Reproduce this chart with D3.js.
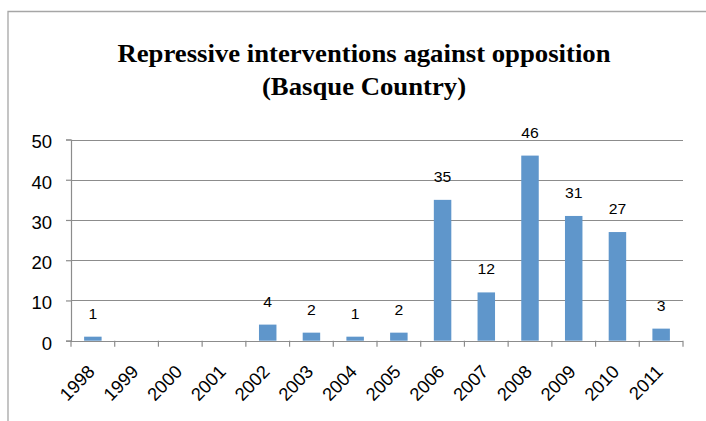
<!DOCTYPE html>
<html><head><meta charset="utf-8">
<script src="https://cdn.jsdelivr.net/npm/d3@7"></script>
<style>body{margin:0;background:#fff;}svg{display:block;}</style>
</head><body>
<script>
const years = ["1998","1999","2000","2001","2002","2003","2004","2005","2006","2007","2008","2009","2010","2011"];
const values = [1,0,0,0,4,2,1,2,35,12,46,31,27,3];
const yTicks = [0,10,20,30,40,50];
const titleLines = ["Repressive interventions against opposition","(Basque Country)"];

const W = 706, H = 421;
const SANS = "'Liberation Sans',Arial,sans-serif";
const svg = d3.select("body").append("svg").attr("width", W).attr("height", H);

// frame (cropped: only left & top visible)
svg.append("path").attr("d", `M8,${H} L8,11.5 L${W},11.5`).attr("fill","none").attr("stroke","#a6a6a6").attr("stroke-width",1.3);

const x0 = 71, x1 = 683, yTop = 139.5, yBot = 340.7;
const x = d3.scaleBand().domain(years).range([x0, x1]).paddingInner(0.6).paddingOuter(0.3);
const xb = d3.scaleBand().domain(years).range([x0, x1]);
const y = d3.scaleLinear().domain([0, 50]).range([yBot, yTop]);

// title
const tg = svg.append("g");
titleLines.forEach((t,i)=>{
  tg.append("g").attr("transform",`translate(364,${62+i*33}) scale(1.1,1)`)
    .append("text").attr("text-anchor","middle")
    .style("font-family","'Liberation Serif','Times New Roman',serif").style("font-weight","bold").style("font-size","24.3px")
    .text(t);
});

// gridlines
svg.append("g").selectAll("line").data(yTicks.filter(d=>d>0)).join("line")
  .attr("x1", x0).attr("x2", x1).attr("y1", d=>Math.round(y(d))+0.5).attr("y2", d=>Math.round(y(d))+0.5)
  .attr("stroke","#8c8c8c").attr("stroke-width",1.2);

// y axis
const yAxis = d3.axisLeft(y).tickValues(yTicks).tickSize(5).tickFormat(d3.format("d"));
const gy = svg.append("g").attr("transform",`translate(${x0},0)`).call(yAxis);
gy.select(".domain").attr("stroke","#8c8c8c").attr("stroke-width",1.2);
gy.selectAll(".tick line").attr("stroke","#8c8c8c").attr("stroke-width",1.2);
gy.selectAll(".tick text").attr("x",0).attr("dy","0.36em")
  .attr("transform","translate(-19,2) scale(1.06,1)")
  .style("font-family",SANS).style("font-size","17.5px").attr("fill","#000");

// x axis baseline and ticks at category boundaries
const gx = svg.append("g");
gx.append("line").attr("x1",x0).attr("x2",x1).attr("y1",Math.round(yBot)+0.5).attr("y2",Math.round(yBot)+0.5).attr("stroke","#8c8c8c").attr("stroke-width",1.2);
const bounds = years.map(d=>xb(d)).concat([x1]);
gx.selectAll("line.t").data(bounds).join("line").attr("class","t")
  .attr("x1",d=>d).attr("x2",d=>d).attr("y1",yBot).attr("y2",yBot+6).attr("stroke","#8c8c8c").attr("stroke-width",1.2);

// x labels rotated
gx.selectAll("text").data(years).join("text")
  .attr("transform", d=>`translate(${xb(d)+xb.bandwidth()/2+3},${yBot+32}) rotate(-46)`)
  .attr("text-anchor","end")
  .style("font-family",SANS).style("font-size","18.3px").attr("fill","#000")
  .text(d=>d);

// bars
svg.append("g").selectAll("rect").data(values.map((v,i)=>({k:years[i],v}))).join("rect")
  .attr("x", d=>x(d.k)).attr("width", x.bandwidth())
  .attr("y", d=>y(d.v)).attr("height", d=>yBot - y(d.v))
  .attr("fill","#5f96cb");

// data labels
svg.append("g").selectAll("g").data(values.map((v,i)=>({k:years[i],v})).filter(d=>d.v>0)).join("g")
  .attr("transform", d=>`translate(${x(d.k)+x.bandwidth()/2},${y(d.v)-18}) scale(1.05,1)`)
  .append("text").attr("text-anchor","middle")
  .style("font-family",SANS).style("font-size","15px").attr("fill","#000")
  .text(d=>d.v);
</script>
</body></html>
